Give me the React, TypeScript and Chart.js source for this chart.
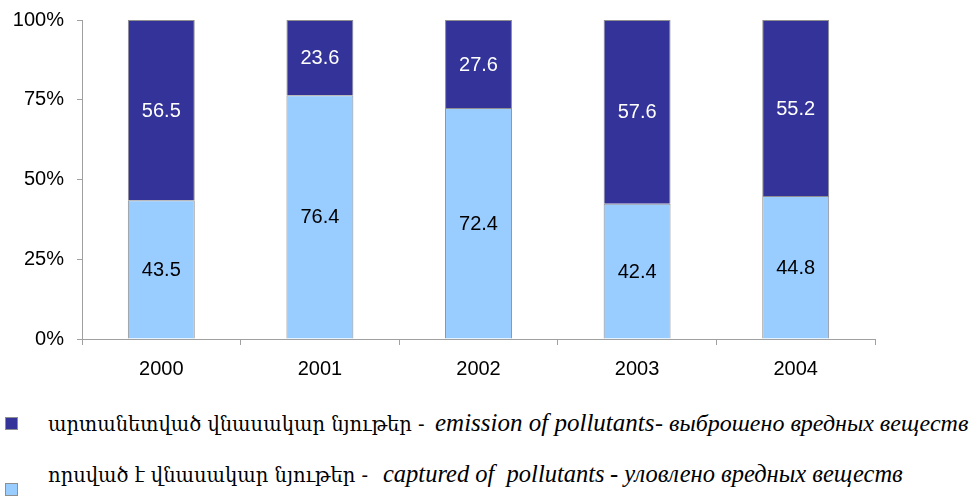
import React, { useEffect, useRef } from "react";
import { Chart, registerables } from "chart.js";

Chart.register(...registerables);

const categories = ["2000", "2001", "2002", "2003", "2004"];
const capturedValues = [43.5, 76.4, 72.4, 42.4, 44.8];
const emissionValues = [56.5, 23.6, 27.6, 57.6, 55.2];
const yTickStep = 25;
const yMax = 100;

const capturedColor = "#99CCFF";
const emissionColor = "#333399";
const capturedLabelColor = "#000000";
const emissionLabelColor = "#FFFFFF";

const emissionLegend = ["արտանետված վնասակար նյութեր -", "emission of pollutants", "- выброшено вредных веществ"];
const capturedLegend = ["որսված է վնասակար նյութեր -", "captured of  pollutants", "- уловлено вредных веществ"];

const labelFont = "Liberation Sans, Arial, sans-serif";

const valueLabels = {
  id: "valueLabels",
  afterDatasetsDraw(chart: any) {
    const ctx = chart.ctx;
    ctx.save();
    ctx.font = `20px ${labelFont}`;
    ctx.textAlign = "center";
    ctx.textBaseline = "middle";
    chart.data.datasets.forEach((ds: any, i: number) => {
      const meta = chart.getDatasetMeta(i);
      ctx.fillStyle = ds.labelColor;
      meta.data.forEach((bar: any, j: number) => {
        const p = bar.getProps(["x", "y", "base"], true);
        ctx.fillText(Number(ds.data[j]).toFixed(1), p.x, (p.y + p.base) / 2 + 1);
      });
    });
    ctx.restore();
  },
};

export default function App() {
  const ref = useRef<HTMLCanvasElement | null>(null);
  useEffect(() => {
    if (!ref.current) return;
    const chart = new Chart(ref.current, {
      type: "bar",
      data: {
        labels: categories,
        datasets: [
          {
            label: "captured",
            data: capturedValues,
            backgroundColor: capturedColor,
            borderColor: "#8f8f8f",
            borderWidth: 1,
            barPercentage: 0.422,
            categoryPercentage: 1,
            labelColor: capturedLabelColor,
          } as any,
          {
            label: "emission",
            data: emissionValues,
            backgroundColor: emissionColor,
            borderColor: "#8f8f8f",
            borderWidth: 1,
            barPercentage: 0.422,
            categoryPercentage: 1,
            labelColor: emissionLabelColor,
          } as any,
        ],
      },
      options: {
        responsive: false,
        animation: false,
        devicePixelRatio: 1,
        layout: { padding: { top: 20, right: 103, left: 0, bottom: 0 } },
        plugins: { legend: { display: false }, tooltip: { enabled: false } },
        scales: {
          x: {
            stacked: true,
            grid: { display: true, drawOnChartArea: false, tickLength: 6, color: "#a0a0a0", offset: true },
            border: { color: "#a0a0a0" },
            ticks: { color: "#000", font: { family: labelFont, size: 20 }, padding: 12 },
            afterFit: (s: any) => { s.height = 61; s.paddingLeft = 0; s.paddingRight = 0; },
          },
          y: {
            stacked: true,
            min: 0,
            max: yMax,
            grid: { display: true, drawOnChartArea: false, tickLength: 5, color: "#a0a0a0" },
            border: { color: "#a0a0a0" },
            ticks: {
              stepSize: yTickStep,
              color: "#000",
              font: { family: labelFont, size: 20 },
              padding: 13,
              callback: (v: any) => `${v}%`,
            },
            afterFit: (s: any) => { s.width = 82; s.paddingTop = 0; s.paddingBottom = 0; },
          },
        },
      },
      plugins: [valueLabels],
    });
    return () => chart.destroy();
  }, []);

  const rowStyle = (top: number): React.CSSProperties => ({
    position: "absolute",
    left: 48,
    top,
    whiteSpace: "pre",
    lineHeight: "28px",
    fontSize: 20,
    color: "#000",
  });
  const arm: React.CSSProperties = { fontFamily: "'DejaVu Serif', 'DejaVu Sans', serif", fontSize: 19.5, display: "inline-block", whiteSpace: "pre" };
  const ital: React.CSSProperties = { fontFamily: "'Liberation Serif', 'Times New Roman', serif", fontStyle: "italic", fontSize: 24, display: "inline-block", whiteSpace: "pre" };
  const marker = (color: string, top: number): React.CSSProperties => ({
    position: "absolute",
    left: 5,
    top,
    width: 11,
    height: 11,
    background: color,
    border: "1px solid #8f8f8f",
  });

  return (
    <div style={{ position: "absolute", left: 0, top: 0, width: 978, height: 498, background: "#fff", overflow: "hidden" }}>
      <canvas ref={ref} width={978} height={400} style={{ position: "absolute", left: 0, top: 0 }} />
      <div style={marker(emissionColor, 417)} />
      <div style={rowStyle(409)}>
        <span style={{ ...arm, width: 387 }}>{emissionLegend[0]}</span>
        <span style={{ ...ital, fontSize: 25, width: 220 }}>{emissionLegend[1]}</span>
        <span style={ital}>{emissionLegend[2]}</span>
      </div>
      <div style={marker(capturedColor, 483)} />
      <div style={rowStyle(460)}>
        <span style={{ ...arm, width: 335 }}>{capturedLegend[0]}</span>
        <span style={{ ...ital, fontSize: 24.5, width: 227 }}>{capturedLegend[1]}</span>
        <span style={{ ...ital, fontSize: 24.5 }}>{capturedLegend[2]}</span>
      </div>
    </div>
  );
}
